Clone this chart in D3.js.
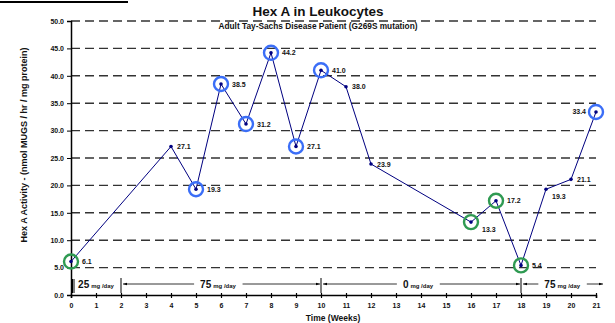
<!DOCTYPE html>
<html><head><meta charset="utf-8">
<script src="https://cdn.jsdelivr.net/npm/d3@7"></script>
<style>body{margin:0;background:#fff}svg{display:block}text{font-family:"Liberation Sans",Arial,sans-serif;font-weight:bold;fill:#111}</style>
</head><body>
<script>
const weeks  = [0, 4, 5, 6, 7, 8, 9, 10, 11, 12, 16, 17, 18, 19, 20, 21];
const values = [6.1, 27.1, 19.3, 38.5, 31.2, 44.2, 27.1, 41.0, 38.0, 23.9, 13.3, 17.2, 5.4, 19.3, 21.1, 33.4];
const circled = ["green","","blue","blue","blue","blue","blue","blue","","","green","green","green","","","blue"];
const labelPos = ["r","r","r","r","r","r","r","r","r","r","br","r","r","br","r","l"];
const yTicks = [0,5,10,15,20,25,30,35,40,45,50];
const xTicks = d3.range(0,22);
const doseStart = [0, 2, 10, 18];
const doseEnd   = [2, 10, 18, 21.3];
const doseAmount = ["25", "75", "0", "75"];

const W=615,H=323;
const svg=d3.select("body").append("svg").attr("width",W).attr("height",H);
const x=d3.scaleLinear().domain([0,21]).range([71,596]);
const y=d3.scaleLinear().domain([0,50]).range([295,21]);

svg.append("rect").attr("x",0).attr("y",1).attr("width",128).attr("height",2).attr("fill","#000");

// grid
svg.append("g").selectAll("line").data(yTicks.filter(d=>d>0)).join("line")
  .attr("x1",x(0)).attr("x2",x(21)).attr("y1",d=>y(d)).attr("y2",d=>y(d))
  .attr("stroke","#333").attr("stroke-width",1.4).attr("stroke-dasharray","9,5");

// y axis
const ya=svg.append("g").attr("transform",`translate(${x(0)},0)`)
  .call(d3.axisLeft(y).tickValues(yTicks).tickFormat(d3.format(".1f")).tickSize(4).tickPadding(3));
ya.select(".domain").attr("stroke","#000").attr("stroke-width",1.5);
ya.selectAll("text").style("font-size","7px").style("font-family","Liberation Sans, Arial").style("font-weight","bold");

// x axis
const xa=svg.append("g").attr("transform",`translate(0,${y(0)})`)
  .call(d3.axisBottom(x).tickValues(xTicks).tickFormat(d3.format("d")).tickSize(3).tickPadding(5));
xa.select(".domain").attr("stroke","#000").attr("stroke-width",1.5);
xa.selectAll(".tick line").attr("y1",-2).attr("stroke-width",1.2);
xa.selectAll("text").style("font-size","7px").style("font-family","Liberation Sans, Arial").style("font-weight","bold");

// titles
svg.append("text").attr("x",318).attr("y",16).attr("text-anchor","middle").style("font-size","13.5px").text("Hex A in Leukocytes");
svg.append("text").attr("x",318).attr("y",29).attr("text-anchor","middle").style("font-size","8.3px").text("Adult Tay-Sachs Disease Patient (G269S mutation)");
svg.append("text").attr("transform","translate(27,145) rotate(-90)").attr("text-anchor","middle").style("font-size","9px").text("Hex A Activity - (nmol MUGS / hr / mg protein)");
svg.append("text").attr("x",333).attr("y",321).attr("text-anchor","middle").style("font-size","8.5px").text("Time (Weeks)");

// dose annotations
const defs=svg.append("defs");
defs.append("marker").attr("id","ah").attr("viewBox","0 0 6 6").attr("refX",6).attr("refY",3)
  .attr("markerWidth",5).attr("markerHeight",5).attr("orient","auto-start-reverse")
  .append("path").attr("d","M0,1 L6,3 L0,5 Z").attr("fill","#000");
const dy=284;
const dg=svg.append("g");
[0,2,10,18].forEach(w=>{
  dg.append("line").attr("x1",x(w)+(w===0?1.5:0)).attr("x2",x(w)+(w===0?1.5:0)).attr("y1",w===0?279:278).attr("y2",293).attr("stroke","#000").attr("stroke-width",1);
  if(w===0) dg.append("line").attr("x1",x(w)+3).attr("x2",x(w)+3).attr("y1",279).attr("y2",293).attr("stroke","#000").attr("stroke-width",1);
});
doseStart.forEach((s,i)=>{
  const e=doseEnd[i];
  const cx=(x(s)+x(e))/2 + (i===0?0:(i===3?0:-3));
  const t=dg.append("text").attr("x",cx).attr("y",dy+4).attr("text-anchor","middle");
  t.append("tspan").style("font-size","10px").text(doseAmount[i]);
  t.append("tspan").style("font-size","6px").attr("dx",2).text("mg /day");
  if(i>0){
    const bb=t.node().getBBox();
    const x0=x(s)+1, x1=Math.min(x(e),600)-1;
    dg.append("line").attr("x1",bb.x-6).attr("x2",x0+1).attr("y1",dy).attr("y2",dy)
      .attr("stroke","#000").attr("stroke-width",0.8).attr("marker-end","url(#ah)");
    dg.append("line").attr("x1",bb.x+bb.width+6).attr("x2",i===3?603:x1).attr("y1",dy).attr("y2",dy)
      .attr("stroke","#000").attr("stroke-width",0.8).attr("marker-end","url(#ah)");
  }
});

// data line
const pts=weeks.map((w,i)=>({w,v:values[i],c:circled[i],p:labelPos[i]}));
svg.append("path").datum(pts).attr("fill","none").attr("stroke","#000080").attr("stroke-width",1)
  .attr("d",d3.line().x(d=>x(d.w)).y(d=>y(d.v)));
svg.append("g").selectAll("circle").data(pts.filter(d=>d.c)).join("circle")
  .attr("cx",d=>x(d.w)).attr("cy",d=>y(d.v)).attr("r",7).attr("fill","none")
  .attr("stroke",d=>d.c==="blue"?"#3b6ef7":"#2f9a52").attr("stroke-width",2.4);
svg.append("g").selectAll("circle").data(pts).join("circle")
  .attr("cx",d=>x(d.w)).attr("cy",d=>y(d.v)).attr("r",1.8).attr("fill","#000080");
svg.append("g").selectAll("text").data(pts).join("text")
  .attr("x",d=>d.p==="l"? x(d.w)-10 : x(d.w)+(d.c?11:6))
  .attr("y",d=>y(d.v)+(d.p==="br"?10:2.5))
  .attr("text-anchor",d=>d.p==="l"?"end":"start")
  .style("font-size","7px").text(d=>d.v.toFixed(1));
</script>
</body></html>
